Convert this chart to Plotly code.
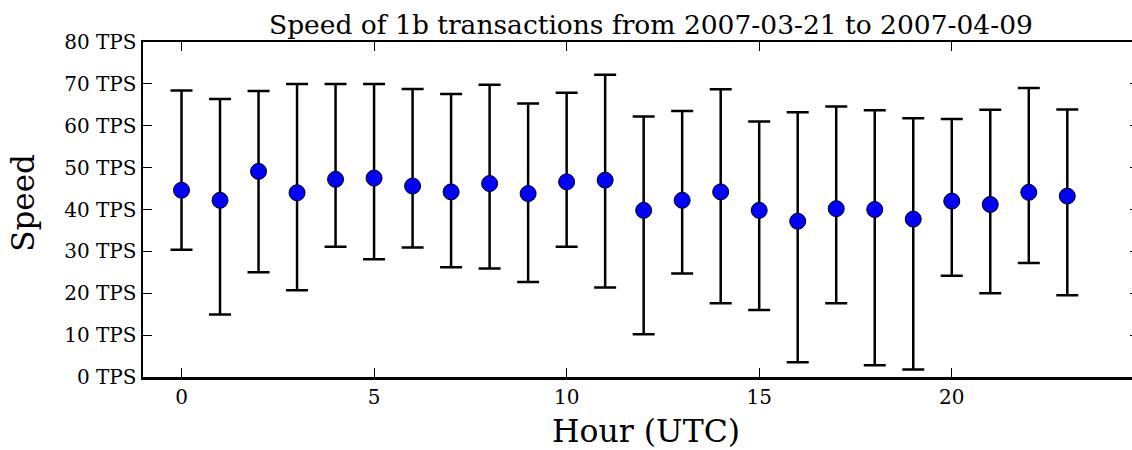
import plotly.graph_objects as go

hours = list(range(24))
mean_tps = [44.6, 42.2, 49.1, 44.0, 47.2, 47.5, 45.6, 44.2, 46.2, 43.8, 46.6, 47.0,
            39.8, 42.2, 44.2, 39.8, 37.2, 40.2, 40.0, 37.7, 42.0, 41.2, 44.1, 43.2]
upper_tps = [68.4, 66.4, 68.3, 70.0, 70.0, 70.0, 68.8, 67.6, 69.8, 65.3, 67.9, 72.2,
             62.2, 63.5, 68.7, 61.0, 63.2, 64.6, 63.7, 61.8, 61.6, 63.8, 69.0, 63.9]
lower_tps = [30.4, 14.9, 25.0, 20.7, 31.1, 28.1, 30.9, 26.2, 25.9, 22.7, 31.1, 21.4,
             10.2, 24.7, 17.6, 16.0, 3.5, 17.6, 2.8, 1.8, 24.2, 20.0, 27.2, 19.5]
y_ticks = [0, 10, 20, 30, 40, 50, 60, 70, 80]
y_tick_labels = ["0 TPS", "10 TPS", "20 TPS", "30 TPS", "40 TPS", "50 TPS",
                 "60 TPS", "70 TPS", "80 TPS"]
x_ticks = [0, 5, 10, 15, 20]

title_text = "Speed of 1b transactions from 2007-03-21 to 2007-04-09"
x_label = "Hour (UTC)"
y_label = "Speed"

FONT = "DejaVu Serif"

err_plus = [u - m for u, m in zip(upper_tps, mean_tps)]
err_minus = [m - l for m, l in zip(mean_tps, lower_tps)]

fig = go.Figure()
fig.add_trace(go.Scatter(
    x=hours, y=mean_tps, mode="markers",
    marker=dict(size=16, color="#0000ff", line=dict(color="black", width=1)),
    error_y=dict(type="data", symmetric=False, array=err_plus, arrayminus=err_minus,
                 color="black", thickness=2.5, width=11),
    showlegend=False, hoverinfo="skip",
))
# invisible trace to carry the right-hand tick axis
fig.add_trace(go.Scatter(x=[hours[0]], y=[y_ticks[0]], yaxis="y2", mode="markers",
                         marker=dict(opacity=0), showlegend=False, hoverinfo="skip"))

fig.update_layout(
    width=1132, height=450, autosize=False,
    margin=dict(l=143, r=0, t=42, b=73, pad=0),
    paper_bgcolor="white", plot_bgcolor="white",
    font=dict(family=FONT, color="black", size=19),
    xaxis=dict(range=[-1, 24.68], tickvals=x_ticks, ticks="inside", ticklen=9,
               tickwidth=1, tickcolor="black", showline=True, linecolor="black",
               linewidth=2.5, mirror="ticks", showgrid=False, zeroline=False,
               automargin=False,
               tickfont=dict(family=FONT, size=20, color="black")),
    yaxis=dict(range=[0, 80], tickvals=y_ticks, ticktext=y_tick_labels, ticks="inside",
               ticklen=9, tickwidth=1, tickcolor="black", showline=True,
               linecolor="black", linewidth=2.5, mirror=False, showgrid=False,
               zeroline=False, automargin=False,
               tickfont=dict(family=FONT, size=20, color="black")),
    yaxis2=dict(range=[0, 80], tickvals=y_ticks, overlaying="y", side="right",
                ticks="inside", ticklen=2, tickwidth=1, tickcolor="black",
                showticklabels=False, showline=False, showgrid=False, zeroline=False,
                automargin=False),
    annotations=[
        dict(text=title_text, xref="x", yref="paper", x=12.2, y=1, xanchor="center",
             yanchor="bottom", yshift=0, showarrow=False,
             font=dict(family=FONT, size=26.5, color="black")),
        dict(text=x_label, xref="x", yref="paper", x=12.05, y=-0.161, xanchor="center",
             yanchor="middle", showarrow=False,
             font=dict(family=FONT, size=31.5, color="black")),
        dict(text=y_label, xref="paper", yref="paper", x=0, y=0.52, xanchor="center",
             yanchor="middle", xshift=-120, textangle=-90, showarrow=False,
             font=dict(family=FONT, size=31, color="black")),
    ],
)

fig.write_html("out.html",
               config={"displayModeBar": False, "staticPlot": True},
               post_script="document.body.style.margin='0';"
                           "document.body.style.overflow='hidden';")
